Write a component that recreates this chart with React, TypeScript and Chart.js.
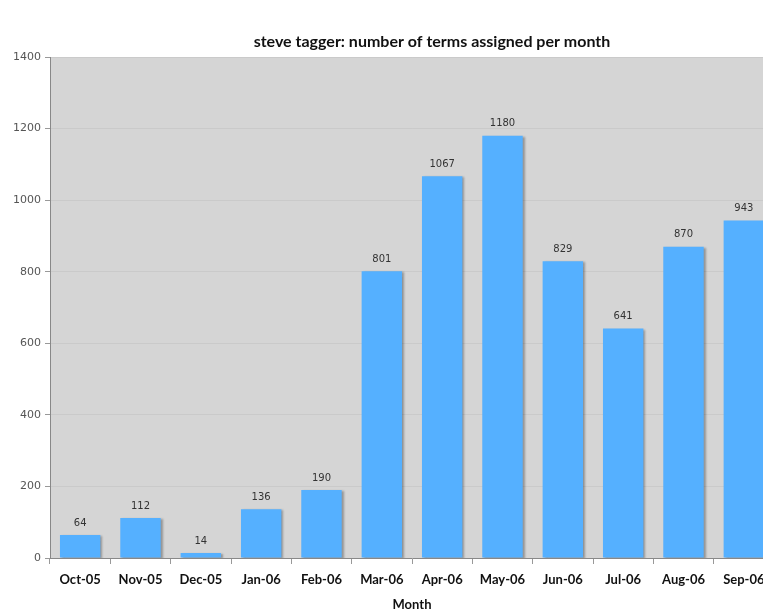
import React, { useEffect, useRef } from "react";
import { Chart, registerables } from "chart.js";

Chart.register(...registerables);

const months = ["Oct-05", "Nov-05", "Dec-05", "Jan-06", "Feb-06", "Mar-06", "Apr-06", "May-06", "Jun-06", "Jul-06", "Aug-06", "Sep-06"];
const termCounts = [64, 112, 14, 136, 190, 801, 1067, 1180, 829, 641, 870, 943];
const chartTitle = "steve tagger: number of terms assigned per month";
const xAxisTitle = "Month";
const yMax = 1400;
const yStep = 200;

const plotBg = {
  id: "plotBg",
  beforeDraw(chart: any) {
    const { ctx, chartArea } = chart;
    ctx.save();
    ctx.fillStyle = "#d5d5d5";
    ctx.fillRect(chartArea.left, chartArea.top, chartArea.right - chartArea.left, chartArea.bottom - chartArea.top);
    ctx.font = "bold 16px Lato";
    ctx.fillStyle = "#111";
    ctx.textAlign = "center";
    ctx.textBaseline = "middle";
    ctx.fillText(chartTitle, 432, 42);
    ctx.restore();
  },
  beforeDatasetsDraw(chart: any) {
    const ctx = chart.ctx;
    ctx.save();
    ctx.shadowColor = "rgba(0,0,0,0.3)";
    ctx.shadowOffsetX = 2;
    ctx.shadowOffsetY = 1;
    ctx.shadowBlur = 2;
  },
  afterDatasetsDraw(chart: any) {
    const ctx = chart.ctx;
    ctx.restore();
    const meta = chart.getDatasetMeta(0);
    ctx.save();
    ctx.font = "10px 'DejaVu Sans'";
    ctx.fillStyle = "#333";
    ctx.textAlign = "center";
    ctx.textBaseline = "middle";
    meta.data.forEach((bar: any, i: number) => {
      ctx.fillText(String(chart.data.datasets[0].data[i]), bar.x, bar.y - 12);
    });
    ctx.restore();
  },
};

export default function App() {
  const ref = useRef<HTMLCanvasElement>(null);
  useEffect(() => {
    const chart = new Chart(ref.current!, {
      type: "bar",
      data: {
        labels: months,
        datasets: [
          {
            data: termCounts,
            backgroundColor: "#55b0ff",
            borderWidth: 0,
            categoryPercentage: 1,
            barPercentage: 0.67,
          },
        ],
      },
      options: {
        animation: false,
        responsive: false,
        maintainAspectRatio: false,
        layout: { padding: { left: 0, right: 90, top: 57, bottom: 0 } },
        plugins: {
          legend: { display: false },
          tooltip: { enabled: false },
          title: { display: false },
        },
        scales: {
          x: {
            grid: { display: true, drawOnChartArea: false, drawTicks: true, tickLength: 6, color: "#999", offset: true },
            border: { display: true, color: "#888" },
            ticks: { color: "#111", font: { family: "Lato", size: 13, weight: "bold" }, padding: 8, maxRotation: 0 },
            title: { display: true, text: xAxisTitle, color: "#111", font: { family: "Lato", size: 13, weight: "bold" }, padding: { top: 4, bottom: 0 } },
            afterFit: (s: any) => { s.height = 55; },
          },
          y: {
            min: 0,
            max: yMax,
            ticks: { stepSize: yStep, color: "#555", font: { family: "DejaVu Sans", size: 11 }, padding: 4, callback: (v: any) => String(v) },
            grid: { color: "rgba(0,0,0,0.05)", tickLength: 5, tickColor: "#999" },
            border: { display: true, color: "#888" },
            afterFit: (s: any) => { s.width = 50; },
          },
        },
      },
      plugins: [plotBg],
    });
    return () => chart.destroy();
  }, []);
  return (
    <div style={{ position: "absolute", left: 0, top: 0, width: 763, height: 613, overflow: "hidden", background: "#fff" }}>
      <canvas ref={ref} width={864} height={613} style={{ display: "block" }} />
    </div>
  );
}
